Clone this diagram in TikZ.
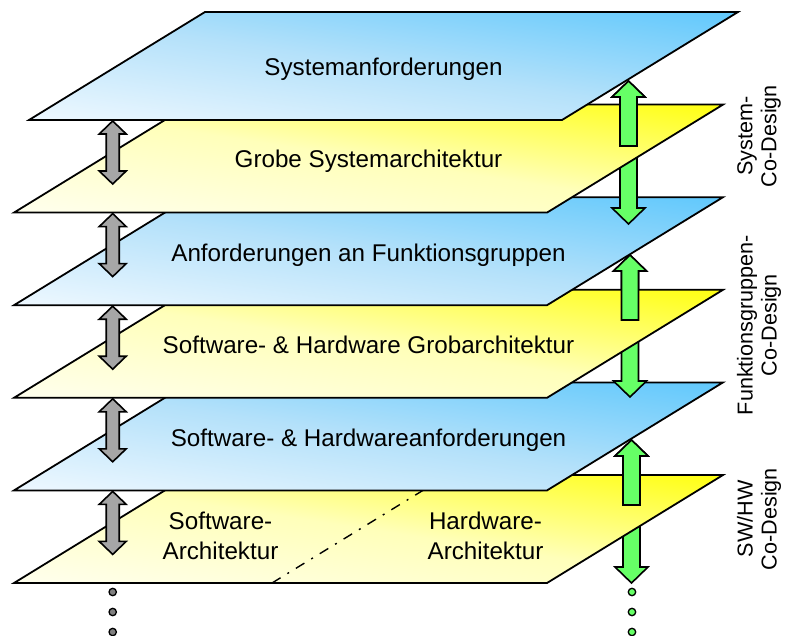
\documentclass[tikz,border=0pt]{standalone}
\usepackage{fontspec}
\setmainfont{Liberation Sans}

\definecolor{planeBlueLight}{RGB}{238,248,255}
\definecolor{planeBlueMid}{RGB}{180,225,250}
\definecolor{planeBlueDark}{RGB}{96,200,252}
\definecolor{planeYellowLight}{RGB}{255,255,238}
\definecolor{planeYellowMid}{RGB}{255,255,186}
\definecolor{planeYellowDark}{RGB}{255,255,16}
\definecolor{linkGreen}{RGB}{102,255,102}
\definecolor{linkGray}{RGB}{166,166,166}
\definecolor{dotGray}{RGB}{128,128,128}

% gradients running from bottom (light) to top (dark) of the shaded box
\pgfdeclareverticalshading{bluePlane}{100bp}{color(0bp)=(planeBlueLight); color(25bp)=(planeBlueLight); color(50bp)=(planeBlueMid); color(75bp)=(planeBlueDark); color(100bp)=(planeBlueDark)}
\pgfdeclareverticalshading{yellowPlane}{100bp}{color(0bp)=(planeYellowLight); color(25bp)=(planeYellowLight); color(50bp)=(planeYellowMid); color(75bp)=(planeYellowDark); color(100bp)=(planeYellowDark)}

\tikzset{
  plane/.style={draw=black, line width=1.8pt, line join=miter},
  greenarrow/.style={draw=black, line width=1.6pt, fill=linkGreen, line join=miter},
  grayarrow/.style={draw=black, line width=1.6pt, fill=linkGray, line join=miter},
  planetext/.style={font=\fontsize{24.2}{30}\selectfont, align=center},
  sidetext/.style={font=\fontsize{21.6}{24}\selectfont, rotate=90, align=center},
  graydot/.style={draw=black, line width=1.3pt, fill=dotGray},
  greendot/.style={draw=black, line width=1.3pt, fill=linkGreen},
  splitline/.style={draw=black, line width=1.4pt, dash pattern=on 10pt off 8pt on 2pt off 8pt},
}

% one layer: shading, left x of the front edge, y of the front edge.
% The gradient runs from the lower left corner of the layer's box to its upper right corner.
\newcommand{\layer}[3]{%
  \begin{scope}
    \clip (#2,#3) -- ++(533,0) -- ++(176,-108) -- ++(-533,0) -- cycle;
    \begin{scope}[transform canvas={cm={7.09,-1.08,7.09,1.08,(#2pt,-#3pt)}}]
      \shade[shading=#1] (-60pt,0pt) rectangle (60pt,100pt);
    \end{scope}
  \end{scope}
  \draw[plane] (#2,#3) -- ++(533,0) -- ++(176,-108) -- ++(-533,0) -- cycle;}

% vertical two-way arrow: style, centre x, top tip, bottom tip, half shaft, half head, head length
\newcommand{\twoway}[7]{%
  \draw[#1] (#2,#3) -- ({#2+#6},{#3+#7}) -- ({#2+#5},{#3+#7}) -- ({#2+#5},{#4-#7})
    -- ({#2+#6},{#4-#7}) -- (#2,#4) -- ({#2-#6},{#4-#7}) -- ({#2-#5},{#4-#7})
    -- ({#2-#5},{#3+#7}) -- ({#2-#6},{#3+#7}) -- cycle;}

% upper half of a two-way arrow, cut flat: style, centre x, tip, cut, half shaft, half head, head length
\newcommand{\upward}[7]{%
  \draw[#1] (#2,#3) -- ({#2+#6},{#3+#7}) -- ({#2+#5},{#3+#7}) -- ({#2+#5},#4)
    -- ({#2-#5},#4) -- ({#2-#5},{#3+#7}) -- ({#2-#6},{#3+#7}) -- cycle;}

\begin{document}
\begin{tikzpicture}[x=1pt, y=-1pt]
\useasboundingbox (0,0) rectangle (786,636);
\fill[white] (0,0) rectangle (786,636);

% lowest layer with the software / hardware split
\twoway{greenarrow}{631.5}{440}{583}{8.5}{16.5}{16}
\layer{yellowPlane}{14}{583}
\draw[splitline] (272,583) -- (448,475);
\upward{greenarrow}{631.5}{440}{505}{8.5}{16.5}{16}

\layer{bluePlane}{14}{490.4}
\twoway{greenarrow}{630}{255}{397}{8.5}{16.5}{16}
\layer{yellowPlane}{14}{397.8}
\upward{greenarrow}{630}{255}{320}{8.5}{16.5}{16}

\layer{bluePlane}{14}{305.2}
\twoway{greenarrow}{628.5}{81}{224}{8.5}{16.5}{16}
\layer{yellowPlane}{14}{212.6}
\upward{greenarrow}{628.5}{81}{146}{8.5}{16.5}{16}

\layer{bluePlane}{29}{120}

% refinement arrows between neighbouring layers
\foreach \yb in {120,212.6,305.2,397.8,490.4} {
  \twoway{grayarrow}{112.7}{\yb+1}{\yb+64}{6.5}{13.5}{13}
}

% continuation dots
\foreach \yd in {592,612,632} {
  \draw[graydot] (112.7,\yd) circle (3.7);
  \draw[greendot] (632,\yd) circle (3.7);
}

% layer titles
\node[planetext, anchor=base] (tSysReq) at (383.5,76) {Systemanforderungen};
\node[planetext, anchor=base] (tSysArch) at (368.5,168) {Grobe Systemarchitektur};
\node[planetext, anchor=base] (tFuncReq) at (368.5,261) {Anforderungen an Funktionsgruppen};
\node[planetext, anchor=base] (tSwHwArch) at (368.5,353) {Software- \& Hardware Grobarchitektur};
\node[planetext, anchor=base] (tSwHwReq) at (368.5,446) {Software- \& Hardwareanforderungen};
\node[planetext] (tSwArch) at (220.5,536) {Software-\\Architektur};
\node[planetext] (tHwArch) at (485.5,536) {Hardware-\\Architektur};

% co-design levels
\node[sidetext] (lSystem) at (759,136) {System-\\Co-Design};
\node[sidetext] (lFunc) at (759,325) {Funktionsgruppen-\\Co-Design};
\node[sidetext] (lSwHw) at (759,519) {SW/HW\\Co-Design};
\end{tikzpicture}
\end{document}
